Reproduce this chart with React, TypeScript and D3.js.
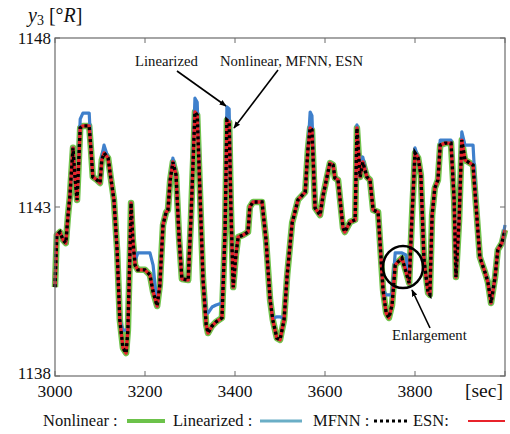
import React from "react";
import * as d3 from "d3";

// time axis [sec]
const times = [
  3000, 3004, 3011, 3018, 3024, 3029, 3033, 3040, 3044, 3049, 3051, 3056, 3062, 3076, 3080, 3084, 3093, 3100, 3104, 3109,
  3118, 3124, 3131, 3138, 3144, 3151, 3158, 3162, 3167, 3169, 3173, 3178, 3184, 3200, 3211, 3218, 3227, 3233, 3240, 3247,
  3251, 3256, 3262, 3269, 3276, 3282, 3296, 3302, 3311, 3316, 3322, 3329, 3336, 3340, 3349, 3358, 3371, 3378, 3382, 3387,
  3391, 3396, 3402, 3407, 3418, 3429, 3433, 3440, 3460, 3469, 3478, 3484, 3493, 3500, 3509, 3516, 3527, 3540, 3556, 3562,
  3567, 3571, 3578, 3589, 3596, 3602, 3611, 3618, 3622, 3629, 3640, 3644, 3656, 3667, 3671, 3678, 3684, 3693, 3700, 3707,
  3718, 3729, 3736, 3742, 3749, 3756, 3762, 3771, 3780, 3787, 3793, 3800, 3807, 3813, 3820, 3829, 3833, 3838, 3844, 3851,
  3856, 3867, 3880, 3887, 3891, 3898, 3904, 3911, 3922, 3929, 3938, 3944, 3956, 3962, 3969, 3978, 3984, 3993, 4000,
];

// y3 [°R]
const nonlinear = [
  1140.63, 1142.17, 1142.26, 1142.02, 1141.93, 1142.76, 1143.3, 1144.75, 1143.95, 1143.21, 1143.8, 1145.34, 1145.4, 1145.4, 1144.69, 1143.89, 1143.8, 1143.71, 1144.39, 1144.6,
  1144.45, 1143.86, 1143.21, 1141.73, 1139.66, 1138.83, 1138.68, 1139.36, 1141.88, 1143.12, 1142.02, 1141.28, 1141.14, 1141.14, 1140.99, 1140.49, 1140.07, 1140.69, 1142.47, 1142.85,
  1142.91, 1143.8, 1144.33, 1143.95, 1142.02, 1140.87, 1140.84, 1142.62, 1145.81, 1145.72, 1143.5, 1140.84, 1139.51, 1139.27, 1139.48, 1139.6, 1139.72, 1142.32, 1145.57, 1145.51,
  1142.91, 1140.63, 1141.58, 1142.11, 1142.17, 1142.26, 1143.0, 1143.15, 1143.15, 1142.02, 1140.25, 1139.66, 1139.12, 1139.07, 1139.66, 1140.99, 1142.53, 1143.21, 1143.44, 1144.69,
  1145.34, 1145.28, 1142.97, 1142.76, 1143.36, 1143.74, 1144.3, 1144.24, 1143.86, 1143.8, 1142.38, 1142.26, 1142.56, 1142.62, 1145.34, 1143.89, 1144.33, 1143.89, 1143.8, 1142.91,
  1142.85, 1140.54, 1139.86, 1139.72, 1140.1, 1141.28, 1141.37, 1141.49, 1141.08, 1140.75, 1142.62, 1144.6, 1144.45, 1143.95, 1141.43, 1140.46, 1140.4, 1142.76, 1143.56, 1143.8,
  1144.83, 1144.89, 1144.89, 1143.21, 1140.93, 1142.62, 1144.98, 1144.39, 1144.3, 1144.24, 1142.62, 1141.52, 1141.05, 1140.78, 1140.16, 1140.93, 1141.73, 1141.93, 1142.32,
];

const linearized = [
  1140.63, 1142.17, 1142.26, 1142.02, 1141.93, 1142.76, 1143.3, 1144.75, 1143.95, 1143.21, 1143.8, 1145.6, 1145.78, 1145.78, 1144.69, 1143.89, 1143.8, 1143.71, 1144.5, 1144.83,
  1144.45, 1143.86, 1143.21, 1141.73, 1139.66, 1139.36, 1139.36, 1139.36, 1141.88, 1143.12, 1142.02, 1141.4, 1141.64, 1141.64, 1141.64, 1141.28, 1140.07, 1140.69, 1142.47, 1142.85,
  1142.91, 1143.8, 1144.45, 1143.95, 1142.02, 1140.87, 1140.84, 1142.62, 1146.22, 1146.1, 1143.5, 1140.84, 1139.9, 1139.86, 1140.04, 1140.1, 1140.16, 1142.32, 1145.96, 1145.9,
  1142.91, 1140.63, 1141.58, 1142.11, 1142.17, 1142.26, 1143.0, 1143.15, 1143.15, 1142.02, 1140.25, 1139.7, 1139.75, 1139.75, 1139.7, 1140.99, 1142.53, 1143.21, 1143.44, 1144.69,
  1145.81, 1145.7, 1142.97, 1142.76, 1143.36, 1143.74, 1144.3, 1144.24, 1143.86, 1143.8, 1142.38, 1142.26, 1142.56, 1142.62, 1145.43, 1143.89, 1144.48, 1143.89, 1143.8, 1142.91,
  1142.85, 1140.54, 1140.4, 1140.4, 1140.4, 1141.64, 1141.64, 1141.64, 1141.58, 1140.75, 1142.62, 1144.75, 1144.45, 1143.95, 1141.43, 1140.46, 1140.4, 1142.76, 1143.56, 1143.8,
  1144.98, 1144.98, 1144.98, 1143.21, 1140.93, 1142.62, 1145.22, 1144.83, 1144.83, 1144.83, 1142.62, 1141.52, 1141.05, 1140.85, 1140.16, 1140.93, 1141.73, 1141.93, 1142.47,
];

const mfnn = [
  1140.63, 1142.17, 1142.26, 1142.02, 1141.93, 1142.76, 1143.3, 1144.75, 1143.95, 1143.21, 1143.8, 1145.34, 1145.4, 1145.4, 1144.69, 1143.89, 1143.8, 1143.71, 1144.39, 1144.6,
  1144.45, 1143.86, 1143.21, 1141.73, 1139.66, 1138.83, 1138.68, 1139.36, 1141.88, 1143.12, 1142.02, 1141.28, 1141.14, 1141.14, 1140.99, 1140.49, 1140.07, 1140.69, 1142.47, 1142.85,
  1142.91, 1143.8, 1144.33, 1143.95, 1142.02, 1140.87, 1140.84, 1142.62, 1145.81, 1145.72, 1143.5, 1140.84, 1139.51, 1139.27, 1139.48, 1139.6, 1139.72, 1142.32, 1145.57, 1145.51,
  1142.91, 1140.63, 1141.58, 1142.11, 1142.17, 1142.26, 1143.0, 1143.15, 1143.15, 1142.02, 1140.25, 1139.66, 1139.12, 1139.07, 1139.66, 1140.99, 1142.53, 1143.21, 1143.44, 1144.69,
  1145.34, 1145.28, 1142.97, 1142.76, 1143.36, 1143.74, 1144.3, 1144.24, 1143.86, 1143.8, 1142.38, 1142.26, 1142.56, 1142.62, 1145.34, 1143.89, 1144.33, 1143.89, 1143.8, 1142.91,
  1142.85, 1140.54, 1139.86, 1139.72, 1140.1, 1141.28, 1141.37, 1141.49, 1141.08, 1140.75, 1142.62, 1144.6, 1144.45, 1143.95, 1141.43, 1140.46, 1140.4, 1142.76, 1143.56, 1143.8,
  1144.83, 1144.89, 1144.89, 1143.21, 1140.93, 1142.62, 1144.98, 1144.39, 1144.3, 1144.24, 1142.62, 1141.52, 1141.05, 1140.78, 1140.16, 1140.93, 1141.73, 1141.93, 1142.32,
];

const esn = [
  1140.63, 1142.17, 1142.26, 1142.02, 1141.93, 1142.76, 1143.3, 1144.75, 1143.95, 1143.21, 1143.8, 1145.34, 1145.4, 1145.4, 1144.69, 1143.89, 1143.8, 1143.71, 1144.39, 1144.6,
  1144.45, 1143.86, 1143.21, 1141.73, 1139.66, 1138.83, 1138.68, 1139.36, 1141.88, 1143.12, 1142.02, 1141.28, 1141.14, 1141.14, 1140.99, 1140.49, 1140.07, 1140.69, 1142.47, 1142.85,
  1142.91, 1143.8, 1144.33, 1143.95, 1142.02, 1140.87, 1140.84, 1142.62, 1145.81, 1145.72, 1143.5, 1140.84, 1139.51, 1139.27, 1139.48, 1139.6, 1139.72, 1142.32, 1145.57, 1145.51,
  1142.91, 1140.63, 1141.58, 1142.11, 1142.17, 1142.26, 1143.0, 1143.15, 1143.15, 1142.02, 1140.25, 1139.66, 1139.12, 1139.07, 1139.66, 1140.99, 1142.53, 1143.21, 1143.44, 1144.69,
  1145.34, 1145.28, 1142.97, 1142.76, 1143.36, 1143.74, 1144.3, 1144.24, 1143.86, 1143.8, 1142.38, 1142.26, 1142.56, 1142.62, 1145.34, 1143.89, 1144.33, 1143.89, 1143.8, 1142.91,
  1142.85, 1140.54, 1139.86, 1139.72, 1140.1, 1141.28, 1141.37, 1141.49, 1141.08, 1140.75, 1142.62, 1144.6, 1144.45, 1143.95, 1141.43, 1140.46, 1140.4, 1142.76, 1143.56, 1143.8,
  1144.83, 1144.89, 1144.89, 1143.21, 1140.93, 1142.62, 1144.98, 1144.39, 1144.3, 1144.24, 1142.62, 1141.52, 1141.05, 1140.78, 1140.16, 1140.93, 1141.73, 1141.93, 1142.32,
];

const xTicks = [3000, 3200, 3400, 3600, 3800, 4000];
const xTickLabels = ["3000", "3200", "3400", "3600", "3800"];
const yTicks = [1138, 1143, 1148];

const W = 510;
const H = 434;
const margin = { top: 38, right: 5, bottom: 58, left: 55 };
const font = "'Liberation Serif', 'Times New Roman', 'DejaVu Serif', serif";

const App = () => {
  const x = d3.scaleLinear().domain([3000, 4000]).range([margin.left, W - margin.right]);
  const y = d3.scaleLinear().domain([1138, 1148]).range([H - margin.bottom, margin.top]);
  const x0 = x.range()[0], x1 = x.range()[1];
  const y0 = y.range()[0], y1 = y.range()[1];

  const line = (vals: number[]) =>
    d3.line<number>().x((d, i) => x(times[i])).y(d => y(d))(vals) || "";

  const axisColor = "#6b6b6b";

  return (
    <svg width={W} height={H} style={{ position: "absolute", left: 0, top: 0, background: "#fff" }}>
      <defs>
        <marker id="arr" viewBox="0 0 10 10" refX="9" refY="5" markerWidth="7" markerHeight="7" orient="auto-start-reverse" markerUnits="userSpaceOnUse">
          <path d="M0,1 L10,5 L0,9 z" fill="#000" />
        </marker>
      </defs>

      {/* series */}
      <path d={line(nonlinear)} fill="none" stroke="#71c24c" strokeWidth={6.5} strokeLinejoin="round" />
      <path d={line(linearized)} fill="none" stroke="#3f80cc" strokeWidth={3.2} strokeLinejoin="round" />
      <path d={line(esn)} fill="none" stroke="#e8232b" strokeWidth={3.4} strokeLinejoin="round" />
      <path d={line(mfnn)} fill="none" stroke="#000" strokeWidth={3.4} strokeDasharray="3 3" />

      {/* frame */}
      <rect x={x0} y={y1} width={x1 - x0} height={y0 - y1} fill="none" stroke={axisColor} strokeWidth={1.2} />
      {xTicks.map(t => (
        <g key={t}>
          <line x1={x(t)} x2={x(t)} y1={y0} y2={y0 - 5} stroke={axisColor} />
          <line x1={x(t)} x2={x(t)} y1={y1} y2={y1 + 5} stroke={axisColor} />
        </g>
      ))}
      {yTicks.map(t => (
        <g key={t}>
          <line x1={x0} x2={x0 + 5} y1={y(t)} y2={y(t)} stroke={axisColor} />
          <line x1={x1} x2={x1 - 5} y1={y(t)} y2={y(t)} stroke={axisColor} />
        </g>
      ))}

      {/* tick labels */}
      {xTickLabels.map((l, i) => (
        <text key={l} x={x(xTicks[i])} y={397} textAnchor="middle" fontFamily={font} fontSize={17.5} fill="#111">{l}</text>
      ))}
      {yTicks.map(t => (
        <text key={t} x={51} y={t === 1138 ? y(t) + 3 : y(t) + 6} textAnchor="end" fontFamily={font} fontSize={17} fill="#111">{t}</text>
      ))}
      <text x={465} y={397} fontFamily={font} fontSize={19.5} fill="#111">[sec]</text>
      <text x={28} y={22} fontFamily={font} fontSize={20} fill="#111">
        <tspan fontStyle="italic">y</tspan>
        <tspan fontSize={14} dy={3}>3</tspan>
        <tspan dy={-3}> [°</tspan>
        <tspan fontStyle="italic">R</tspan>
        <tspan>]</tspan>
      </text>

      {/* annotations */}
      <text x={135} y={66} fontFamily={font} fontSize={14.7} fill="#111">Linearized</text>
      <text x={220} y={66} fontFamily={font} fontSize={14.7} fill="#111">Nonlinear, MFNN, ESN</text>
      <line x1={177} y1={71} x2={226} y2={106} stroke="#000" strokeWidth={1.6} markerEnd="url(#arr)" />
      <line x1={278} y1={70} x2={234} y2={128} stroke="#000" strokeWidth={1.6} markerEnd="url(#arr)" />
      <ellipse cx={403} cy={267} rx={20} ry={21} fill="none" stroke="#000" strokeWidth={2.5} />
      <line x1={430} y1={328} x2={412} y2={290} stroke="#000" strokeWidth={1.6} markerEnd="url(#arr)" />
      <text x={392} y={340} fontFamily={font} fontSize={14.7} fill="#111">Enlargement</text>

      {/* legend */}
      <g fontFamily={font} fontSize={16.5} fill="#111">
        <text x={43} y={426}>Nonlinear :</text>
        <line x1={127} x2={165} y1={421} y2={421} stroke="#6cc24a" strokeWidth={4} />
        <text x={173} y={426}>Linearized :</text>
        <line x1={260} x2={302} y1={421} y2={421} stroke="#6aaec6" strokeWidth={3} />
        <text x={313} y={426}>MFNN :</text>
        <line x1={374} x2={408} y1={421} y2={421} stroke="#000" strokeWidth={3} strokeDasharray="3 3" />
        <text x={413} y={426}>ESN:</text>
        <line x1={468} x2={505} y1={421} y2={421} stroke="#e8232b" strokeWidth={2} />
      </g>
    </svg>
  );
};

export default App;
